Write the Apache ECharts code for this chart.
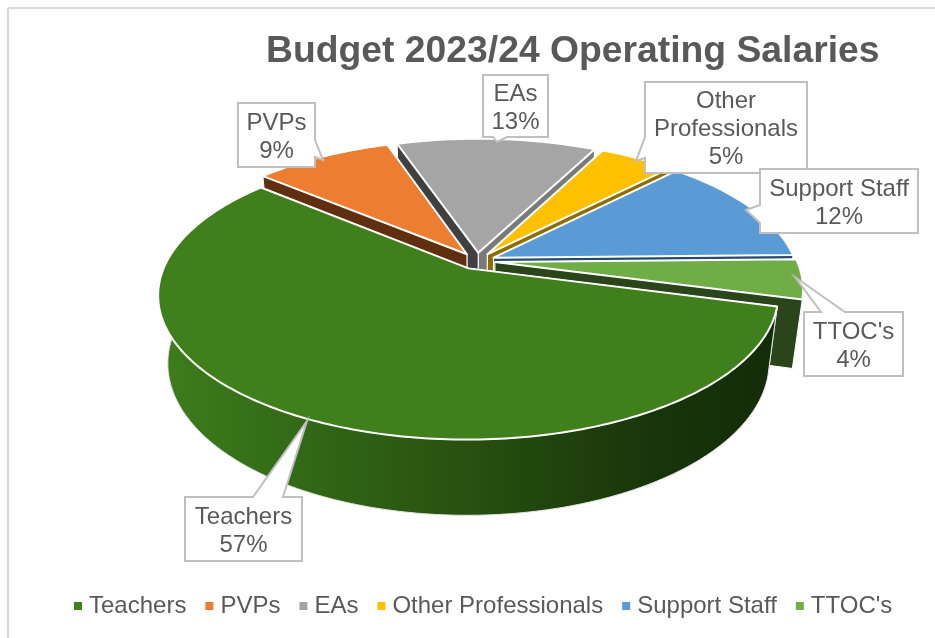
<!DOCTYPE html>
<html><head><meta charset="utf-8">
<style>html,body{margin:0;padding:0;background:#fff}#c{width:935px;height:638px}</style>
<script src="https://cdn.jsdelivr.net/npm/echarts@6/dist/echarts.min.js"></script>
</head><body><div id="c"></div>
<script>
// ---- data ----
var categories = ["Teachers", "PVPs", "EAs", "Other Professionals", "Support Staff", "TTOC's"];
var shares = [57, 8.7, 12.6, 4.73, 12.49, 4.48];
var labelLines = ["Teachers", "PVPs", "EAs", "Other\nProfessionals", "Support Staff", "TTOC's"];
// ---- styles ----
var topColors = ["#3F7F1C", "#ED7D31", "#A5A5A5", "#FFC000", "#5B9BD5", "#70AD47"];
var startWallColors = ["#1A3A0C", "#5F2F10", "#404040", "#7A7A7A", "#7F6000", "#1E3A5C"];
var endWallColors = ["#1A3A0C", "#5F2F10", "#7A7A7A", "#8F6C00", "#264A6E", "#2A451A"];
var paintOrder = [2, 1, 3, 4, 5, 0];
// ---- projection of the tilted pie ----
var view = {cx: 477, cy: 261, A: 302, B: 137.4, D: 69, k: 0.18, m: 0.03, explode: 0.06, startDeg: 15};
function project(u, v, z) {
  var w = 1 - view.k * v + view.m * z;
  return [view.cx + view.A * u / w, view.cy + (view.B * v + view.D * z) / w];
}
var total = shares.reduce(function (a, b) { return a + b; }, 0);
function sliceAngles(i) {
  var before = 0;
  for (var j = 0; j < i; j++) before += shares[j];
  var a0 = view.startDeg + before / total * 360;
  return [a0, a0 + shares[i] / total * 360];
}
function renderSlice(i) {
  return function (params, api) {
    var value = api.value(0);
    var ang = sliceAngles(i), a0 = ang[0], a1 = a0 + value / total * 360;
    var mid = (a0 + a1) / 2 * Math.PI / 180;
    var ox = view.explode * Math.cos(mid), oy = view.explode * Math.sin(mid);
    function rim(deg, z) {
      var r = deg * Math.PI / 180;
      return project(ox + Math.cos(r), oy + Math.sin(r), z);
    }
    var arcTop = [], sideTop = [], sideBot = [];
    for (var d = a0; d <= a1; d += 1) {
      arcTop.push(rim(d, 0));
      // only the part of the rim that faces the viewer has a visible side
      if (Math.sin(d * Math.PI / 180) > -0.3) { sideTop.push(rim(d, 0)); sideBot.push(rim(d, 1)); }
    }
    arcTop.push(rim(a1, 0));
    var apexTop = project(ox, oy, 0), apexBot = project(ox, oy, 1);
    function wall(p, q, color) {
      return {type: 'polygon', shape: {points: [apexTop, p, q, apexBot]},
        style: {fill: color, stroke: '#fff', lineWidth: 1, lineJoin: 'round'}};
    }
    var sideFill = new echarts.graphic.LinearGradient(0, 0, 1, 0, [
      {offset: 0, color: '#3E7D1C'}, {offset: 0.22, color: '#326A16'},
      {offset: 0.5, color: '#285010'}, {offset: 0.8, color: '#17350A'}, {offset: 1, color: '#132C08'}
    ]);
    var startFirst = Math.sin(a0 * Math.PI / 180) >= Math.sin(a1 * Math.PI / 180);
    var wStart = wall(rim(a0, 0), rim(a0, 1), startWallColors[i]);
    var wEnd = wall(rim(a1, 0), rim(a1, 1), endWallColors[i]);
    var kids = startFirst ? [wEnd, wStart] : [wStart, wEnd];
    if (i === 0) {
      kids.push({type: 'polygon', shape: {points: sideTop.concat(sideBot.slice().reverse())},
        style: {fill: sideFill, stroke: '#E4E4E4', lineWidth: 1}});
    }
    kids.push({type: 'polygon', shape: {points: [apexTop].concat(arcTop)},
      style: {fill: api.visual('color'), stroke: '#fff', lineWidth: 2, lineJoin: 'round'}});
    return {type: 'group', children: kids};
  };
}
// ---- callout layout: box [left, top, right, bottom], then pointer [base, tip, base] ----
var calloutBoxes = [[185, 497, 302, 561], [238, 103, 315, 167], [483, 75, 548, 137],
  [645, 82, 807, 173], [760, 169, 918, 233], [804, 312, 903, 376]];
var calloutPointers = [
  {side: 'top', pts: [[253, 497], [307, 421], [283, 497]]},
  {side: 'right', pts: [[315, 140], [323, 160], [315, 157]]},
  {side: 'bottom', pts: [[507, 137], [497, 142], [493, 137]]},
  {side: 'left', pts: [[645, 158], [636, 161], [645, 137]]},
  {side: 'left', pts: [[760, 223], [746, 210], [760, 205]]},
  {side: 'top', pts: [[821, 312], [795, 277], [845, 312]]}
];
function renderCallout(params, api) {
  var i = params.dataIndex, b = calloutBoxes[i], p = calloutPointers[i];
  var tl = [b[0], b[1]], tr = [b[2], b[1]], br = [b[2], b[3]], bl = [b[0], b[3]], pts;
  if (p.side === 'top') pts = [tl, p.pts[0], p.pts[1], p.pts[2], tr, br, bl];
  else if (p.side === 'right') pts = [tl, tr, p.pts[0], p.pts[1], p.pts[2], br, bl];
  else if (p.side === 'bottom') pts = [tl, tr, br, p.pts[0], p.pts[1], p.pts[2], bl];
  else pts = [tl, tr, br, bl, p.pts[0], p.pts[1], p.pts[2]];
  return {type: 'group', children: [
    {type: 'polygon', shape: {points: pts},
      style: {fill: '#fff', stroke: '#BFBFBF', lineWidth: 2, lineJoin: 'miter'}},
    {type: 'text', style: {
      x: (b[0] + b[2]) / 2, y: (b[1] + b[3]) / 2 + 2,
      text: labelLines[i] + '\n' + Math.round(api.value(0) / total * 100) + '%',
      fill: '#595959', font: '24px "Liberation Sans"', lineHeight: 28,
      align: 'center', verticalAlign: 'middle'}}
  ]};
}
var series = paintOrder.map(function (i) {
  return {name: categories[i], type: 'custom', coordinateSystem: 'none', z: 2 + paintOrder.indexOf(i),
    silent: true, itemStyle: {color: topColors[i]}, data: [[shares[i]]], renderItem: renderSlice(i)};
});
series.push({name: 'labels', type: 'custom', coordinateSystem: 'none', z: 20, silent: true,
  data: shares.map(function (s) { return [s]; }), renderItem: renderCallout});

var chart = echarts.init(document.getElementById('c'), null, {renderer: 'canvas'});
chart.setOption({
  animation: false,
  backgroundColor: '#fff',
  title: {text: 'Budget 2023/24 Operating Salaries', left: 261, top: 28,
    textStyle: {fontFamily: 'Liberation Sans', fontSize: 37.3, fontWeight: 'bold', color: '#595959'}},
  legend: {data: categories, left: 69, top: 589, icon: 'rect', itemWidth: 8, itemHeight: 8, itemGap: 19,
    selectedMode: false,
    textStyle: {fontFamily: 'Liberation Sans', fontSize: 24, color: '#595959', padding: [0, 0, 0, 2]}},
  graphic: [
    {type: 'line', silent: true, shape: {x1: 8, y1: 8, x2: 8, y2: 638}, style: {stroke: '#D9D9D9', lineWidth: 2}},
    {type: 'line', silent: true, shape: {x1: 8, y1: 8, x2: 935, y2: 8}, style: {stroke: '#D9D9D9', lineWidth: 2}}
  ],
  series: series
});
</script></body></html>
